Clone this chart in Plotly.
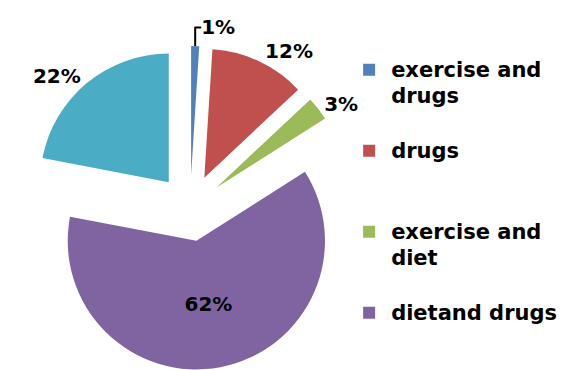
import textwrap
import plotly.graph_objects as go

# Treatment groups and their share of patients (%)
categories = ["exercise and drugs", "drugs", "exercise and diet", "dietand drugs", "other"]
percent = [1, 12, 3, 62, 22]
colors = ["#4F81BD", "#C0504D", "#9BBB59", "#8064A2", "#4BACC6"]

# Only the first four groups are listed in the key
legend_count = 4

text_font = dict(family="DejaVu Sans", size=20, color="black", weight="bold")

fig = go.Figure()

# Exploded pie, slices running clockwise from 12 o'clock
fig.add_trace(go.Pie(
    labels=categories,
    values=percent,
    sort=False,
    direction="clockwise",
    rotation=0,
    marker=dict(colors=colors, line=dict(width=0)),
    pull=[0.26] * len(percent),
    texttemplate="%{value}%",
    textposition=["inside" if v > 50 else "outside" for v in percent],
    textfont=text_font,
    insidetextfont=text_font,
    outsidetextfont=text_font,
    insidetextorientation="horizontal",
    domain=dict(x=[0.044, 0.623], y=[0.0, 0.876]),
    showlegend=False,
    hoverinfo="label+percent",
))

# Key entries: wrapped names, each padded to the same number of rows
key_labels = []
for i, name in enumerate(categories[:legend_count]):
    rows = textwrap.wrap(name, 13)
    rows = ["<span style='font-size:21px'>%s</span>" % r for r in rows]
    if i < legend_count - 1:
        rows += [" "] * (3 - len(rows))
    key_labels.append("<br>".join(rows))

fig.add_trace(go.Pie(
    labels=key_labels,
    values=percent[:legend_count],
    sort=False,
    marker=dict(colors=colors[:legend_count], line=dict(width=0)),
    textinfo="none",
    hoverinfo="skip",
    domain=dict(x=[0.999, 1.0], y=[0.0, 0.001]),
    showlegend=True,
))

fig.update_layout(
    width=570,
    height=370,
    margin=dict(l=0, r=0, t=0, b=0, autoexpand=False),
    paper_bgcolor="white",
    plot_bgcolor="white",
    legend=dict(
        x=0.609, y=0.8645, xanchor="left", yanchor="top",
        valign="top",
        itemwidth=34,
        font=dict(family="DejaVu Sans", size=20, color="black", weight="bold"),
        bgcolor="rgba(0,0,0,0)",
        borderwidth=0,
    ),
)

fig.write_html("out.html")
